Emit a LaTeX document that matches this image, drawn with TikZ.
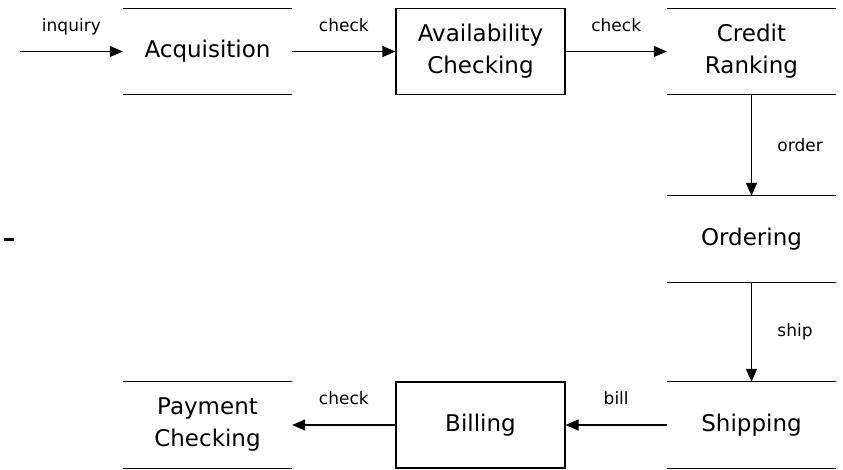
\documentclass[tikz,border=0pt]{standalone}
\usepackage{fontspec}
\setmainfont{DejaVu Sans}
\usetikzlibrary{arrows.meta}

\begin{document}
\begin{tikzpicture}[x=1pt, y=-1pt,
    flow/.style={-{Triangle[length=13pt,width=11pt]}, line width=1.2pt},
    store/.style={minimum width=169pt, minimum height=86pt, align=center, font=\fontsize{23}{32}\selectfont},
    proc/.style={store, draw, line width=1.2pt},
    lbl/.style={font=\fontsize{17}{20}\selectfont}]
    \useasboundingbox (0,0) rectangle (843,469);
    \node[store] (acq) at (207.5,51.5) {Acquisition};
    \node[proc] (avail) at (480.5,51.5) {Availability\\Checking};
    \node[store] (credit) at (751.5,51.5) {Credit\\Ranking};
    \node[store] (ordering) at (751.5,239) {Ordering};
    \node[store] (shipping) at (751.5,425) {Shipping};
    \node[proc] (billing) at (480.5,425) {Billing};
    \node[store] (payment) at (207.5,425) {Payment\\Checking};
    \coordinate (in) at (20,51.5);
    \foreach \n in {acq,credit,ordering,shipping,payment} {
        \draw[line width=1.2pt] (\n.north west) -- (\n.north east) (\n.south west) -- (\n.south east);
    }
    \draw[flow] (in) -- node[lbl, yshift=25pt] {inquiry} (acq);
    \draw[flow] (acq) -- node[lbl, yshift=26pt] {check} (avail);
    \draw[flow] (avail) -- node[lbl, yshift=26pt] {check} (credit);
    \draw[flow] (credit) -- node[lbl, right=22pt] {order} (ordering);
    \draw[flow] (ordering) -- node[lbl, right=22pt] {ship} (shipping);
    \draw[flow] (shipping) -- node[lbl, yshift=27pt] {bill} (billing);
    \draw[flow] (billing) -- node[lbl, yshift=27pt] {check} (payment);
    \draw[line width=3pt] (4,239) -- (14,239);
\end{tikzpicture}
\end{document}
